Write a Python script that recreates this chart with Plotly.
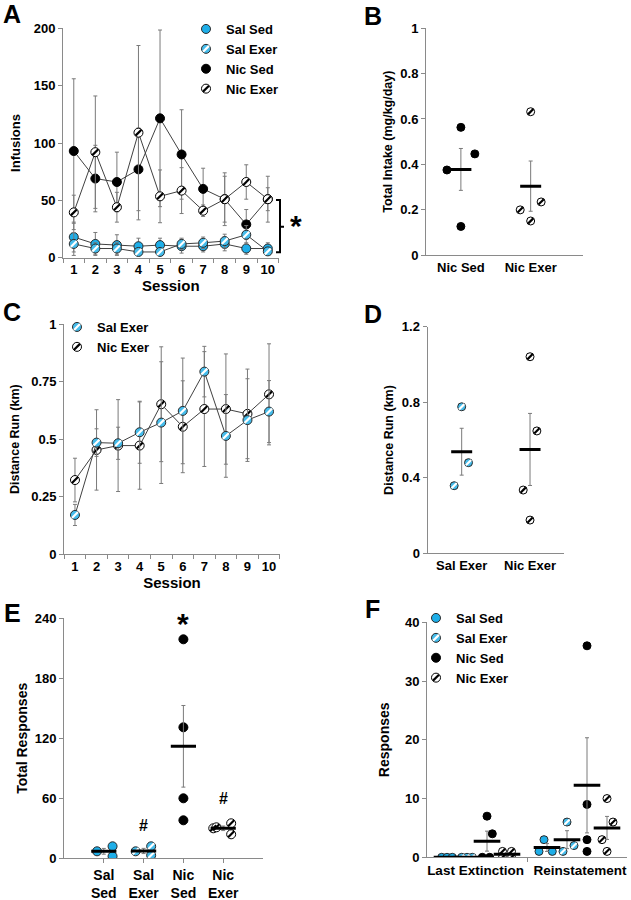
import numpy as np
import plotly.graph_objects as go

W, H = 631, 900
BLUE = "#1EAEE8"
BLUE2 = "#45BCEB"
AXIS = "#8a8a8a"
ERR = "#7a7a7a"
LINE = "#404040"
FONT = "Liberation Sans"

# ---------------- DATA ----------------
groups = ["Sal Sed", "Sal Exer", "Nic Sed", "Nic Exer"]
sessions = list(range(1, 11))

# Panel A: infusions per session (mean, SEM)
a_sal_sed = [18, 12, 11, 10, 11, 10, 10, 12, 8, 8]
a_sal_sed_err = [13, 10, 9, 7, 6, 6, 5, 6, 5, 5]
a_sal_exer = [12, 8, 8, 5, 5, 12, 13, 14.5, 20, 5.5]
a_sal_exer_err = [10, 5, 5, 3, 3, 5, 5, 6, 8, 3]
a_nic_sed = [93, 69, 66, 77, 121.5, 90, 60, 51, 29, 51]
a_nic_sed_err = [63, 29, 26, 36, 77, 39, 18, 23, 13, 10]
a_nic_exer = [39.5, 92, 44, 109, 53.5, 58.5, 41, 51, 66, 51]
a_nic_exer_err = [15, 49, 13, 76, 23, 20, 5, 20, 15, 20]

# Panel B: total intake (mg/kg/day), individual animals
b_categories = ["Nic Sed", "Nic Exer"]
b_nic_sed = [0.375, 0.563, 0.446, 0.126]
b_nic_exer = [0.632, 0.199, 0.234, 0.150]
b_nic_sed_jit = [-0.2, 0.0, 0.2, 0.0]
b_nic_exer_jit = [0.0, -0.15, 0.15, 0.0]

# Panel C: distance run per session (mean, SEM)
c_sal_exer = [0.17, 0.485, 0.482, 0.53, 0.572, 0.623, 0.794, 0.514, 0.583, 0.62]
c_sal_exer_err = [0.046, 0.06, 0.07, 0.135, 0.265, 0.23, 0.11, 0.18, 0.18, 0.135]
c_nic_exer = [0.322, 0.453, 0.472, 0.472, 0.652, 0.554, 0.631, 0.631, 0.61, 0.695]
c_nic_exer_err = [0.095, 0.175, 0.2, 0.19, 0.25, 0.2, 0.25, 0.24, 0.195, 0.22]

# Panel D: distance run (km), individual animals
d_categories = ["Sal Exer", "Nic Exer"]
d_sal_exer = [0.776, 0.480, 0.358]
d_nic_exer = [1.041, 0.648, 0.335, 0.176]
d_sal_exer_jit = [0.0, 0.1, -0.11]
d_nic_exer_jit = [0.0, 0.1, -0.1, 0.0]

# Panel E: total responses, individual animals
e_categories = ["Sal<br>Sed", "Sal<br>Exer", "Nic<br>Sed", "Nic<br>Exer"]
e_sal_sed = [7, 12, 2]
e_sal_exer = [7, 12, 3]
e_nic_sed = [219, 131, 60, 38]
e_nic_exer = [30, 31, 35, 24]
e_sal_sed_jit = [-0.17, 0.22, 0.22]
e_sal_exer_jit = [-0.2, 0.19, 0.19]
e_nic_sed_jit = [0, 0, 0, 0]
e_nic_exer_jit = [-0.25, -0.17, 0.2, 0.2]

# Panel F: responses, last extinction vs reinstatement
f_phases = ["Last Extinction", "Reinstatement"]
f_ext_sal_sed = [0, 0, 0]
f_ext_sal_exer = [0, 0, 0]
f_ext_nic_sed = [0, 0, 7, 4]
f_ext_nic_exer = [1, 1, 0, 0]
f_rei_sal_sed = [3, 1, 1]
f_rei_sal_exer = [6, 1, 2]
f_rei_nic_sed = [36, 9, 3, 1]
f_rei_nic_exer = [10, 6, 3, 1]
f_ext_sal_sed_jit = [-0.053, 0, 0.053]
f_ext_sal_exer_jit = [-0.053, 0, 0.053]
f_ext_nic_sed_jit = [-0.047, 0.027, 0, 0.053]
f_ext_nic_exer_jit = [-0.045, 0.045, -0.045, 0.045]
f_rei_sal_sed_jit = [-0.03, -0.08, 0.053]
f_rei_sal_exer_jit = [0, -0.04, 0.07]
f_rei_nic_sed_jit = [0, 0, 0, 0]
f_rei_nic_exer_jit = [0, 0.06, -0.05, 0]

# ---------------- STYLE ----------------
STY = {
    "Sal Sed": dict(fill=BLUE, edge="#2a2a2a", hatch=None),
    "Sal Exer": dict(fill=BLUE2, edge="#2a2a2a", hatch="white"),
    "Nic Sed": dict(fill="black", edge="black", hatch=None),
    "Nic Exer": dict(fill="white", edge="black", hatch="black"),
}

fig = go.Figure()


def mean_sem(v):
    v = np.asarray(v, dtype=float)
    return float(v.mean()), float(v.std(ddof=1) / np.sqrt(len(v)))


def add_markers(x, y, group, xa, ya, size=9, mode="markers", err=None):
    st = STY[group]
    kw = {}
    if err is not None:
        kw["error_y"] = dict(type="data", array=err, color=ERR, thickness=1, width=2)
    fig.add_trace(go.Scatter(
        x=x, y=y, mode=mode, xaxis=xa, yaxis=ya, showlegend=False, name=group,
        line=dict(color=LINE, width=1),
        marker=dict(symbol="circle", size=size, color=st["fill"],
                    line=dict(color=st["edge"], width=1)), **kw))
    if st["hatch"]:
        fig.add_trace(go.Scatter(
            x=x, y=y, mode="markers", xaxis=xa, yaxis=ya, showlegend=False,
            hoverinfo="skip",
            marker=dict(symbol="line-ne", size=size * 0.66, color=st["hatch"],
                        line=dict(color=st["hatch"], width=2.2))))


def add_mean(x, vals, xa, ya, bar=16):
    m, s = mean_sem(vals)
    fig.add_trace(go.Scatter(
        x=[x], y=[m], mode="markers", xaxis=xa, yaxis=ya, showlegend=False,
        error_y=dict(type="data", array=[s], color=ERR, thickness=1, width=2),
        marker=dict(symbol="line-ew", size=bar, color="black",
                    line=dict(color="black", width=3))))


def add_legend(names, legend_main, legend_hatch, size=9):
    for g in names:
        st = STY[g]
        fig.add_trace(go.Scatter(
            x=[None], y=[None], mode="markers", name=g, legend=legend_main,
            marker=dict(symbol="circle", size=size, color=st["fill"],
                        line=dict(color=st["edge"], width=1))))
    for g in names:
        st = STY[g]
        hc = st["hatch"] or "rgba(0,0,0,0)"
        fig.add_trace(go.Scatter(
            x=[None], y=[None], mode="markers", name=g, legend=legend_hatch,
            marker=dict(symbol="line-ne", size=size * 0.66, color=hc,
                        line=dict(color=hc, width=2.2))))


# Panel A
for g, v, e in [("Nic Sed", a_nic_sed, a_nic_sed_err),
                ("Nic Exer", a_nic_exer, a_nic_exer_err),
                ("Sal Sed", a_sal_sed, a_sal_sed_err),
                ("Sal Exer", a_sal_exer, a_sal_exer_err)]:
    add_markers(sessions, v, g, "x", "y", size=9, mode="lines+markers", err=e)

# Panel B
for i, (vals, jit) in enumerate([(b_nic_sed, b_nic_sed_jit), (b_nic_exer, b_nic_exer_jit)]):
    g = ["Nic Sed", "Nic Exer"][i]
    add_markers([i + 1 + j for j in jit], vals, g, "x2", "y2", size=8)
    add_mean(i + 1, vals, "x2", "y2", bar=15)

# Panel C
for g, v, e in [("Nic Exer", c_nic_exer, c_nic_exer_err),
                ("Sal Exer", c_sal_exer, c_sal_exer_err)]:
    add_markers(sessions, v, g, "x3", "y3", size=9, mode="lines+markers", err=e)

# Panel D
for i, (vals, jit) in enumerate([(d_sal_exer, d_sal_exer_jit), (d_nic_exer, d_nic_exer_jit)]):
    g = ["Sal Exer", "Nic Exer"][i]
    add_markers([i + 1 + j for j in jit], vals, g, "x4", "y4", size=8)
    add_mean(i + 1, vals, "x4", "y4", bar=15)

# Panel E
e_sets = [(e_sal_sed, e_sal_sed_jit), (e_sal_exer, e_sal_exer_jit),
          (e_nic_sed, e_nic_sed_jit), (e_nic_exer, e_nic_exer_jit)]
for i, (vals, jit) in enumerate(e_sets):
    add_markers([i + 1 + j for j in jit], vals, groups[i], "x5", "y5", size=9)
    add_mean(i + 1, vals, "x5", "y5", bar=18)

# Panel F
f_sets = [
    [(f_ext_sal_sed, f_ext_sal_sed_jit), (f_ext_sal_exer, f_ext_sal_exer_jit),
     (f_ext_nic_sed, f_ext_nic_sed_jit), (f_ext_nic_exer, f_ext_nic_exer_jit)],
    [(f_rei_sal_sed, f_rei_sal_sed_jit), (f_rei_sal_exer, f_rei_sal_exer_jit),
     (f_rei_nic_sed, f_rei_nic_sed_jit), (f_rei_nic_exer, f_rei_nic_exer_jit)],
]
for p, sets in enumerate(f_sets):
    for k, (vals, jit) in enumerate(sets):
        cx = p + 0.2 * (k + 1)
        add_markers([cx + j for j in jit], vals, groups[k], "x6", "y6", size=8)
        add_mean(cx, vals, "x6", "y6", bar=19)

# Legends (marker + hatch overlay)
add_legend(groups, "legend", "legend2", size=9)
add_legend(["Sal Exer", "Nic Exer"], "legend3", "legend4", size=9)
add_legend(groups, "legend5", "legend6", size=9)


# ---------------- LAYOUT ----------------
def px(x):
    return x / W


def py(y):
    return 1 - y / H


TICKF = dict(family=FONT, size=13, color="black", weight="bold")
TITLEF = dict(family=FONT, size=13, color="black", weight="bold")


def yax(domain, rng, tickvals, ticktext, title, tsize, standoff, anchor):
    return dict(domain=[py(domain[1]), py(domain[0])], range=rng, anchor=anchor,
                automargin=False,
                showline=True, linecolor=AXIS, linewidth=1, showgrid=False,
                zeroline=False, ticks="outside", ticklen=4, tickcolor=AXIS,
                tickvals=tickvals, ticktext=ticktext, tickfont=TICKF,
                title=dict(text=title, font=dict(TITLEF, size=tsize), standoff=standoff))


def xax(domain, rng, anchor, **kw):
    d = dict(domain=[px(domain[0]), px(domain[1])], range=rng, anchor=anchor,
             automargin=False, tickangle=0,
             showline=True, linecolor=AXIS, linewidth=1, showgrid=False,
             zeroline=False, tickfont=TICKF)
    d.update(kw)
    return d


half_ticks = [i + 0.5 for i in range(0, 11)]
session_minor = dict(tickmode="array", tickvals=half_ticks, ticks="outside",
                     ticklen=4, tickcolor=AXIS, showgrid=False)

layout = dict(
    template="none",
    width=W, height=H, margin=dict(l=0, r=0, t=0, b=0, autoexpand=False),
    paper_bgcolor="white", plot_bgcolor="white", showlegend=True,
    font=dict(family=FONT, color="black"),
    # A
    xaxis=xax((63, 278.6), [0.5, 10.5], "y", tickvals=sessions, ticks="",
              minor=session_minor,
              title=dict(text="Session", font=dict(TITLEF, size=15), standoff=4)),
    yaxis=yax((28.3, 257.7), [0, 200], [0, 50, 100, 150, 200],
              ["0", "50", "100", "150", "200"], "Infusions", 13, 10, "x"),
    # B
    xaxis2=xax((426, 583), [0.5, 2.75], "y2", tickvals=[1, 2], ticktext=b_categories, ticks=""),
    yaxis2=yax((28.3, 255), [0, 1], [0, 0.2, 0.4, 0.6, 0.8, 1],
               ["0", "0.2", "0.4", "0.6", "0.8", "1"], "Total Intake (mg/kg/day)", 12.5, 4, "x2"),
    # C
    xaxis3=xax((64.2, 279.8), [0.5, 10.5], "y3", tickvals=sessions, ticks="",
               minor=session_minor,
               title=dict(text="Session", font=dict(TITLEF, size=15), standoff=4)),
    yaxis3=yax((324.3, 554), [0, 1], [0, 0.25, 0.5, 0.75, 1],
               ["0", "0.25", "0.5", "0.75", "1"], "Distance Run (km)", 12.5, 8, "x3"),
    # D
    xaxis4=xax((427.5, 564.2), [0.5, 2.5], "y4", tickvals=[1, 2], ticktext=d_categories, ticks=""),
    yaxis4=yax((326.7, 553.3), [0, 1.2], [0, 0.4, 0.8, 1.2],
               ["0", "0.4", "0.8", "1.2"], "Distance Run (km)", 12.5, 5, "x4"),
    # E
    xaxis5=xax((64, 263), [0, 5], "y5", tickvals=[1, 2, 3, 4], ticktext=e_categories,
               ticks="outside", ticklen=4, tickcolor=AXIS, tickfont=dict(TICKF, size=14)),
    yaxis5=yax((618.3, 858.3), [0, 240], [0, 60, 120, 180, 240],
               ["0", "60", "120", "180", "240"], "Total Responses", 14, 3, "x5"),
    # F
    xaxis6=xax((427, 627), [0, 2], "y6", tickvals=[0.485, 1.53], ticktext=f_phases, ticks="",
               tickfont=dict(TICKF, size=13.5),
               minor=dict(tickmode="array", tickvals=[1], ticks="outside", ticklen=4,
                          tickcolor=AXIS, showgrid=False)),
    yaxis6=yax((622.3, 857.3), [0, 40], [0, 10, 20, 30, 40],
               ["0", "10", "20", "30", "40"], "Responses", 14, 12, "x6"),
)

LEGF = dict(family=FONT, size=13, color="black", weight="bold")
LEGF_T = dict(family=FONT, size=13, color="rgba(0,0,0,0)", weight="bold")


def leg(x, y, font):
    return dict(x=px(x), y=py(y), xanchor="left", yanchor="top",
                bgcolor="rgba(0,0,0,0)", borderwidth=0, font=font,
                itemwidth=30, tracegroupgap=0, traceorder="normal")


layout["legend"] = leg(186, 14, LEGF)
layout["legend2"] = leg(186, 14, LEGF_T)
layout["legend3"] = leg(57, 312, LEGF)
layout["legend4"] = leg(57, 312, LEGF_T)
layout["legend5"] = leg(416, 603, LEGF)
layout["legend6"] = leg(416, 603, LEGF_T)

fig.update_layout(**layout)

# Panel letters
for letter, x, y in [("A", 12, 14), ("B", 373, 16), ("C", 12, 312),
                     ("D", 373, 314), ("E", 12, 613), ("F", 372, 609)]:
    fig.add_annotation(x=px(x), y=py(y), xref="paper", yref="paper", text=letter,
                       showarrow=False, xanchor="center", yanchor="middle",
                       font=dict(family=FONT, size=25, color="black", weight="bold"))

# Significance bracket in A
bx0, bx1, bx2 = px(276), px(280), px(284)
yt, yb, ym = py(200), py(252.3), py(226.7)
fig.add_shape(type="path", xref="paper", yref="paper",
              path=f"M {bx0},{yt} L {bx1},{yt} L {bx1},{yb} L {bx0},{yb} M {bx1},{ym} L {bx2},{ym}",
              line=dict(color="black", width=2))
fig.add_annotation(x=px(296), y=py(207), xref="paper", yref="paper", text="*",
                   showarrow=False, font=dict(family=FONT, size=30, color="black", weight="bold"))

# Markers in E
fig.add_annotation(x=3, y=235, xref="x5", yref="y5", text="*", showarrow=False,
                   font=dict(family=FONT, size=30, color="black", weight="bold"))
fig.add_annotation(x=2, y=33, xref="x5", yref="y5", text="#", showarrow=False,
                   font=dict(family=FONT, size=16, color="black", weight="bold"))
fig.add_annotation(x=4, y=60, xref="x5", yref="y5", text="#", showarrow=False,
                   font=dict(family=FONT, size=16, color="black", weight="bold"))

fig.write_html("out.html", config={"displayModeBar": False},
               post_script="document.body.style.margin='0px';")
